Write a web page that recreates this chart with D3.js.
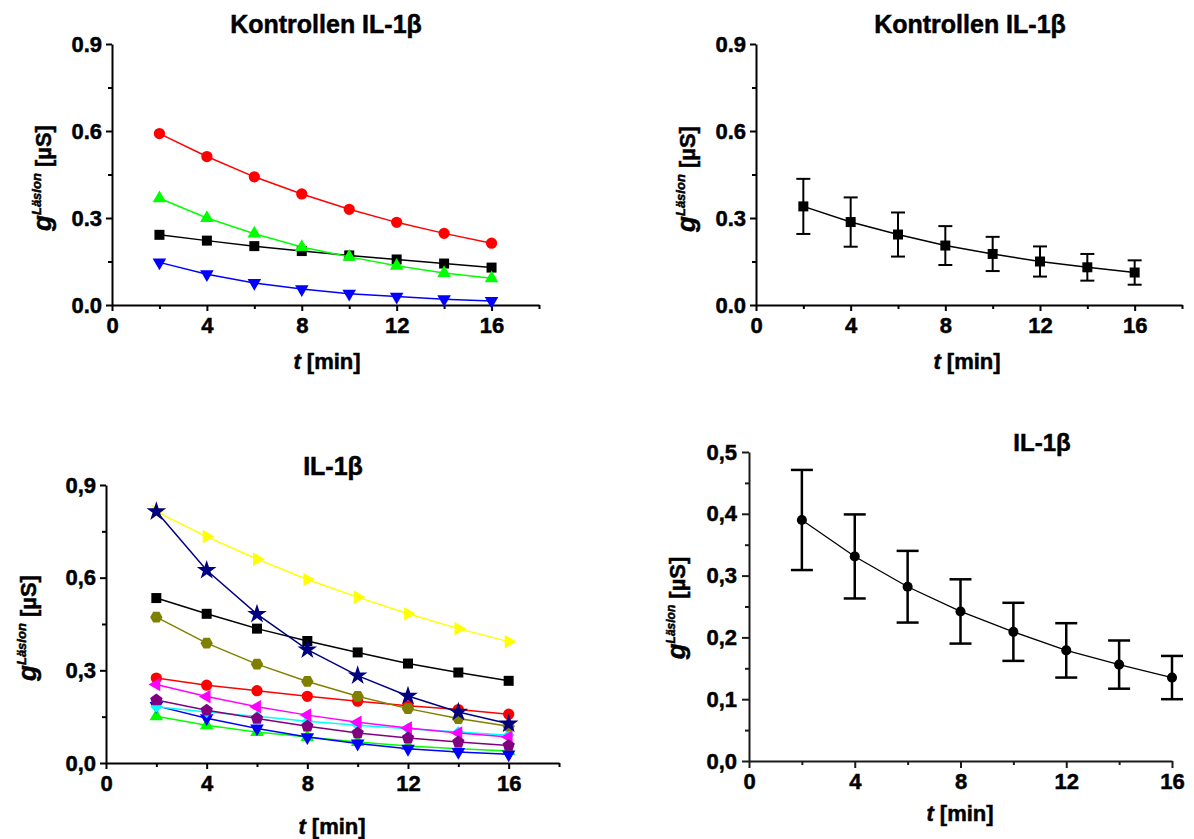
<!DOCTYPE html>
<html><head><meta charset="utf-8">
<script src="https://cdn.jsdelivr.net/npm/d3@7"></script>
<style>
html,body{margin:0;padding:0;background:#fff;}
svg{display:block;font-family:"Liberation Sans",Arial,sans-serif;}
</style></head>
<body>
<svg id="c" width="1194" height="839"></svg>
<script>
// ---------- data ----------
const times = [2, 4, 6, 8, 10, 12, 14, 16];

// Kontrollen IL-1β (individual)
const ctrlBlack = [0.242, 0.222, 0.203, 0.186, 0.171, 0.157, 0.143, 0.129];
const ctrlRed   = [0.591, 0.512, 0.442, 0.383, 0.330, 0.285, 0.247, 0.213];
const ctrlGreen = [0.368, 0.300, 0.246, 0.200, 0.166, 0.135, 0.110, 0.092];
const ctrlBlue  = [0.147, 0.106, 0.076, 0.055, 0.039, 0.029, 0.020, 0.014];

// Kontrollen IL-1β (mean ± error)
const ctrlMean = [0.340, 0.286, 0.243, 0.205, 0.176, 0.150, 0.130, 0.112];
const ctrlErr  = [0.095, 0.085, 0.076, 0.067, 0.059, 0.052, 0.046, 0.042];

// IL-1β (individual)
const il1Black   = [0.534, 0.483, 0.435, 0.395, 0.358, 0.322, 0.293, 0.266];
const il1Red     = [0.275, 0.252, 0.234, 0.216, 0.200, 0.185, 0.173, 0.158];
const il1Green   = [0.151, 0.122, 0.100, 0.084, 0.068, 0.055, 0.046, 0.039];
const il1Blue    = [0.185, 0.145, 0.112, 0.084, 0.063, 0.046, 0.036, 0.028];
const il1Cyan    = [0.182, 0.165, 0.151, 0.135, 0.122, 0.111, 0.100, 0.090];
const il1Magenta = [0.254, 0.215, 0.182, 0.155, 0.132, 0.113, 0.097, 0.084];
const il1Yellow  = [0.814, 0.733, 0.660, 0.594, 0.537, 0.483, 0.435, 0.393];
const il1Olive   = [0.472, 0.388, 0.320, 0.264, 0.216, 0.176, 0.144, 0.119];
const il1Navy    = [0.814, 0.624, 0.482, 0.367, 0.283, 0.217, 0.165, 0.127];
const il1Purple  = [0.204, 0.171, 0.144, 0.119, 0.097, 0.081, 0.068, 0.057];

// IL-1β (mean ± error)
const il1Mean = [0.390, 0.331, 0.282, 0.242, 0.209, 0.179, 0.156, 0.135];
const il1Err  = [0.081, 0.068, 0.058, 0.052, 0.047, 0.044, 0.039, 0.035];

// ticks
const xMajorTicks = [0, 4, 8, 12, 16];
const xMinorTicks = [2, 6, 10, 14, 18];
const xMinorTicksBR = [2, 6, 10, 14];
const yMajor09 = [0, 0.3, 0.6, 0.9];
const yMinor09 = [0.15, 0.45, 0.75];
const yMajor05 = [0, 0.1, 0.2, 0.3, 0.4, 0.5];
const yMinor05 = [0.05, 0.15, 0.25, 0.35, 0.45];

const titleCtrl = "Kontrollen IL-1β";
const titleIL = "IL-1β";
const xLabelT = "t";
const xLabelRest = " [min]";
const yLabelG = "g";
const yLabelSup = "Läsion";
const yLabelRest = " [µS]";

// ---------- symbols ----------
function polygonSymbol(n, rot) {
  return { draw(ctx, size) {
    const r = Math.sqrt(size / (n / 2 * Math.sin(2 * Math.PI / n)));
    for (let i = 0; i < n; i++) {
      const a = rot + i * 2 * Math.PI / n;
      const px = r * Math.cos(a), py = r * Math.sin(a);
      if (i === 0) ctx.moveTo(px, py); else ctx.lineTo(px, py);
    }
    ctx.closePath();
  }};
}
const S = {
  square:   {type: d3.symbolSquare, size: 100, rot: 0},
  circle:   {type: d3.symbolCircle, size: 100, rot: 0},
  up:       {type: d3.symbolTriangle, size: 80, rot: 0},
  down:     {type: d3.symbolTriangle, size: 80, rot: 180},
  diamond:  {type: polygonSymbol(4, -Math.PI/2), size: 70, rot: 0},
  left:     {type: d3.symbolTriangle, size: 80, rot: -90},
  right:    {type: d3.symbolTriangle, size: 80, rot: 90},
  hexagon:  {type: polygonSymbol(6, 0), size: 100, rot: 0},
  star:     {type: d3.symbolStar, size: 120, rot: 0},
  pentagon: {type: polygonSymbol(5, -Math.PI/2), size: 100, rot: 0}
};

const svg = d3.select("#c");

function panel(o) {
  const g = svg.append("g");
  const x = d3.scaleLinear().domain(o.xDomain).range([o.left, o.right]);
  const y = d3.scaleLinear().domain(o.yDomain).range([o.bottom, o.top]);
  const yfmt = v => d3.format(".1f")(v).replace(".", o.dec);
  // minor ticks
  g.append("g").attr("transform", `translate(0,${o.bottom})`)
    .call(d3.axisBottom(x).tickValues(o.xMinor).tickSize(o.minorLen).tickSizeOuter(0).tickFormat(""))
    .call(a => a.select(".domain").remove());
  g.append("g").attr("transform", `translate(${o.left},0)`)
    .call(d3.axisLeft(y).tickValues(o.yMinor).tickSize(o.minorLen).tickSizeOuter(0).tickFormat(""))
    .call(a => a.select(".domain").remove());
  // major
  const xa = g.append("g").attr("transform", `translate(0,${o.bottom})`)
    .call(d3.axisBottom(x).tickValues(xMajorTicks).tickSize(o.majorLen).tickSizeOuter(0).tickPadding(o.xPad).tickFormat(d3.format("d")));
  const ya = g.append("g").attr("transform", `translate(${o.left},0)`)
    .call(d3.axisLeft(y).tickValues(o.yMajor).tickSize(o.majorLen).tickSizeOuter(0).tickPadding(o.yPad).tickFormat(yfmt));
  [xa, ya].forEach(a => {
    a.selectAll("text").attr("font-size", o.tickFont).attr("font-weight", "bold").attr("fill", "#000")
      .attr("font-family", '"Liberation Sans",Arial,sans-serif');
  });
  g.selectAll(".tick line").attr("stroke", o.axisColor).attr("stroke-width", o.axisWidth);
  g.selectAll(".domain").attr("stroke", o.axisColor).attr("stroke-width", o.axisWidth);

  // title
  g.append("text").attr("x", o.titleX).attr("y", o.titleY).attr("text-anchor", "middle")
    .attr("font-size", o.titleFont).attr("font-weight", "bold").text(o.title);
  // x label
  const xl = g.append("text").attr("x", o.xLabX).attr("y", o.xLabY).attr("text-anchor", "middle")
    .attr("font-size", o.labFont).attr("font-weight", "bold");
  xl.append("tspan").attr("font-style", "italic").text(xLabelT);
  xl.append("tspan").text(xLabelRest);
  // y label
  const yl = g.append("text").attr("transform", `translate(${o.yLabX},${o.yLabY}) rotate(-90)`)
    .attr("text-anchor", "middle").attr("font-size", o.labFont).attr("font-weight", "bold");
  yl.append("tspan").attr("font-style", "italic").attr("font-size", o.labFont + 4).text(yLabelG);
  yl.append("tspan").attr("font-style", "italic").attr("font-size", o.supFont).attr("dy", -o.supShift).text(yLabelSup);
  yl.append("tspan").attr("dy", o.supShift).text(yLabelRest);
  return {g, x, y};
}

function series(p, vals, color, sym, lw) {
  const line = d3.line().x((d, i) => p.x(times[i])).y(d => p.y(d));
  p.g.append("path").datum(vals).attr("d", line).attr("fill", "none")
    .attr("stroke", color).attr("stroke-width", lw);
  const s = S[sym];
  p.g.append("g").selectAll("path").data(vals).join("path")
    .attr("transform", (d, i) => `translate(${p.x(times[i])},${p.y(d)}) rotate(${s.rot})`)
    .attr("d", d3.symbol().type(s.type).size(s.size))
    .attr("fill", color);
}

function errSeries(p, mean, err, sym, size, capW, lw, ew) {
  const line = d3.line().x((d, i) => p.x(times[i])).y(d => p.y(d));
  p.g.append("path").datum(mean).attr("d", line).attr("fill", "none")
    .attr("stroke", "#000").attr("stroke-width", lw);
  const eb = p.g.append("g").attr("stroke", "#000").attr("stroke-width", ew);
  mean.forEach((m, i) => {
    const cx = p.x(times[i]);
    eb.append("line").attr("x1", cx).attr("x2", cx).attr("y1", p.y(m - err[i])).attr("y2", p.y(m + err[i]));
    eb.append("line").attr("x1", cx - capW/2).attr("x2", cx + capW/2).attr("y1", p.y(m + err[i])).attr("y2", p.y(m + err[i]));
    eb.append("line").attr("x1", cx - capW/2).attr("x2", cx + capW/2).attr("y1", p.y(m - err[i])).attr("y2", p.y(m - err[i]));
  });
  p.g.append("g").selectAll("path").data(mean).join("path")
    .attr("transform", (d, i) => `translate(${p.x(times[i])},${p.y(d)})`)
    .attr("d", d3.symbol().type(sym).size(size)).attr("fill", "#000");
}

const common = {xDomain: [0, 18], xMinor: xMinorTicks, majorLen: 6, minorLen: 4, xPad: 6, yPad: 4,
  tickFont: 22, titleFont: 25, labFont: 22, supFont: 13, supShift: 10, axisColor: "#000", axisWidth: 2};

// Top-left
const p1 = panel(Object.assign({}, common, {left: 112, right: 539, top: 44, bottom: 305,
  yDomain: [0, 0.9], yMajor: yMajor09, yMinor: yMinor09, dec: ".",
  title: titleCtrl, titleX: 326, titleY: 33, xLabX: 327, xLabY: 369, yLabX: 51, yLabY: 178}));
series(p1, ctrlBlack, "#000000", "square", 1.5);
series(p1, ctrlRed, "#ff0000", "circle", 1.5);
series(p1, ctrlGreen, "#00ff00", "up", 1.5);
series(p1, ctrlBlue, "#0000ff", "down", 1.5);

// Top-right
const p2 = panel(Object.assign({}, common, {left: 756, right: 1182, top: 44, bottom: 305,
  yDomain: [0, 0.9], yMajor: yMajor09, yMinor: yMinor09, dec: ".",
  title: titleCtrl, titleX: 970, titleY: 33, xLabX: 967, xLabY: 369, yLabX: 695, yLabY: 179}));
errSeries(p2, ctrlMean, ctrlErr, d3.symbolSquare, 100, 14, 1.5, 2);

// Bottom-left
const p3 = panel(Object.assign({}, common, {left: 106, right: 559, top: 485, bottom: 763,
  yDomain: [0, 0.9], yMajor: yMajor09, yMinor: yMinor09, dec: ",",
  title: titleIL, titleX: 333, titleY: 475, xLabX: 332, xLabY: 834, yLabX: 36, yLabY: 628}));
series(p3, il1Black, "#000000", "square", 1.5);
series(p3, il1Red, "#ff0000", "circle", 1.5);
series(p3, il1Green, "#00ff00", "up", 1.5);
series(p3, il1Blue, "#0000ff", "down", 1.5);
series(p3, il1Cyan, "#00ffff", "diamond", 1.5);
series(p3, il1Magenta, "#ff00ff", "left", 1.5);
series(p3, il1Yellow, "#ffff00", "right", 1.5);
series(p3, il1Olive, "#808000", "hexagon", 1.5);
series(p3, il1Navy, "#000080", "star", 1.5);
series(p3, il1Purple, "#800080", "pentagon", 1.5);

// Bottom-right
const p4 = panel(Object.assign({}, common, {xDomain: [0, 16], xMinor: xMinorTicksBR,
  left: 749, right: 1172, top: 452, bottom: 761, majorLen: 7, minorLen: 4, xPad: 5, yPad: 5,
  yDomain: [0, 0.5], yMajor: yMajor05, yMinor: yMinor05, dec: ",", tickFont: 22, titleFont: 24,
  labFont: 22, supFont: 12, supShift: 10, axisColor: "#1a1a1a",
  title: titleIL, titleX: 1042, titleY: 451, xLabX: 960, xLabY: 821, yLabX: 685, yLabY: 608}));
errSeries(p4, il1Mean, il1Err, d3.symbolCircle, 80, 22, 1.3, 2.5);

// heavier glyph weight like the source rendering
svg.selectAll("text").attr("stroke", "#000").attr("stroke-width", 0.5);
</script>
</body></html>
